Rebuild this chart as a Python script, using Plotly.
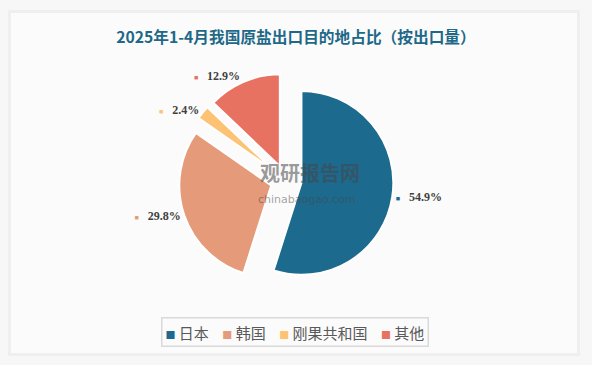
import plotly.graph_objects as go

# ---- data ----
title_text = "2025年1-4月我国原盐出口目的地占比（按出口量）"
countries = ["日本", "韩国", "刚果共和国", "其他"]
shares = [54.9, 29.8, 2.4, 12.9]
colors = ["#1c6a8e", "#e59a79", "#fdc274", "#e87262"]

W, H = 592, 365
pull = 0.17

texts = [
    f'<span style="font-size:7px;color:{c}">■</span>   {v:.1f}%'
    for c, v in zip(colors, shares)
]

fig = go.Figure()
fig.add_trace(go.Pie(
    labels=countries,
    values=shares,
    sort=False,
    direction="clockwise",
    rotation=0,
    pull=[pull] * len(shares),
    marker=dict(colors=colors, line=dict(color="white", width=2)),
    text=texts,
    textinfo="text",
    textposition="outside",
    textfont=dict(family="Liberation Serif", size=12, color="#404040", weight="bold"),
    hoverinfo="label+percent",
    domain=dict(x=[178.4 / W, 393.6 / W], y=[1 - 288 / H, 1 - 73 / H]),
    showlegend=False,
))

# legend drawn as one bordered text box
nb = "\u00a0"
legend_text = (nb * 4).join(
    f'<span style="font-size:10px;color:{c}">■</span>{nb}{n}'
    for c, n in zip(colors, countries)
)

fig.update_layout(
    width=W, height=H,
    margin=dict(l=0, r=0, t=0, b=0),
    paper_bgcolor="#f7f7f7",
    title=dict(
        text=title_text, x=0.5, xanchor="center", y=1 - 38 / H, yanchor="middle",
        font=dict(family="Noto Sans CJK SC", size=15.7, color="#1e6888", weight="bold"),
    ),
    shapes=[
        dict(type="rect", xref="paper", yref="paper", layer="below",
             x0=8 / W, x1=580 / W, y0=1 - 356 / H, y1=1 - 10 / H,
             fillcolor="#efefef", line=dict(width=0)),
        dict(type="rect", xref="paper", yref="paper", layer="below",
             x0=11 / W, x1=577 / W, y0=1 - 353 / H, y1=1 - 13 / H,
             fillcolor="#fbfbfb", line=dict(width=0)),
    ],
    annotations=[
        dict(text="观研报告网", x=310 / W, y=1 - 173 / H, xref="paper", yref="paper",
             showarrow=False, font=dict(family="Noto Sans CJK SC", size=20, color="rgba(70,70,70,0.55)", weight="bold")),
        dict(text="chinabaogao.com", x=307 / W, y=1 - 199 / H, xref="paper", yref="paper",
             showarrow=False, font=dict(family="DejaVu Sans", size=11, color="rgba(70,70,70,0.5)")),
        dict(text=legend_text, x=294.5 / W, y=1 - 332 / H, xref="paper", yref="paper",
             xanchor="center", yanchor="middle", showarrow=False,
             bordercolor="#d9d9d9", borderwidth=1.5, borderpad=3,
             font=dict(family="Noto Sans CJK SC", size=15, color="#595959")),
    ],
)

fig.write_html("out.html", config={"displayModeBar": False},
               post_script="document.body.style.margin='0';")
